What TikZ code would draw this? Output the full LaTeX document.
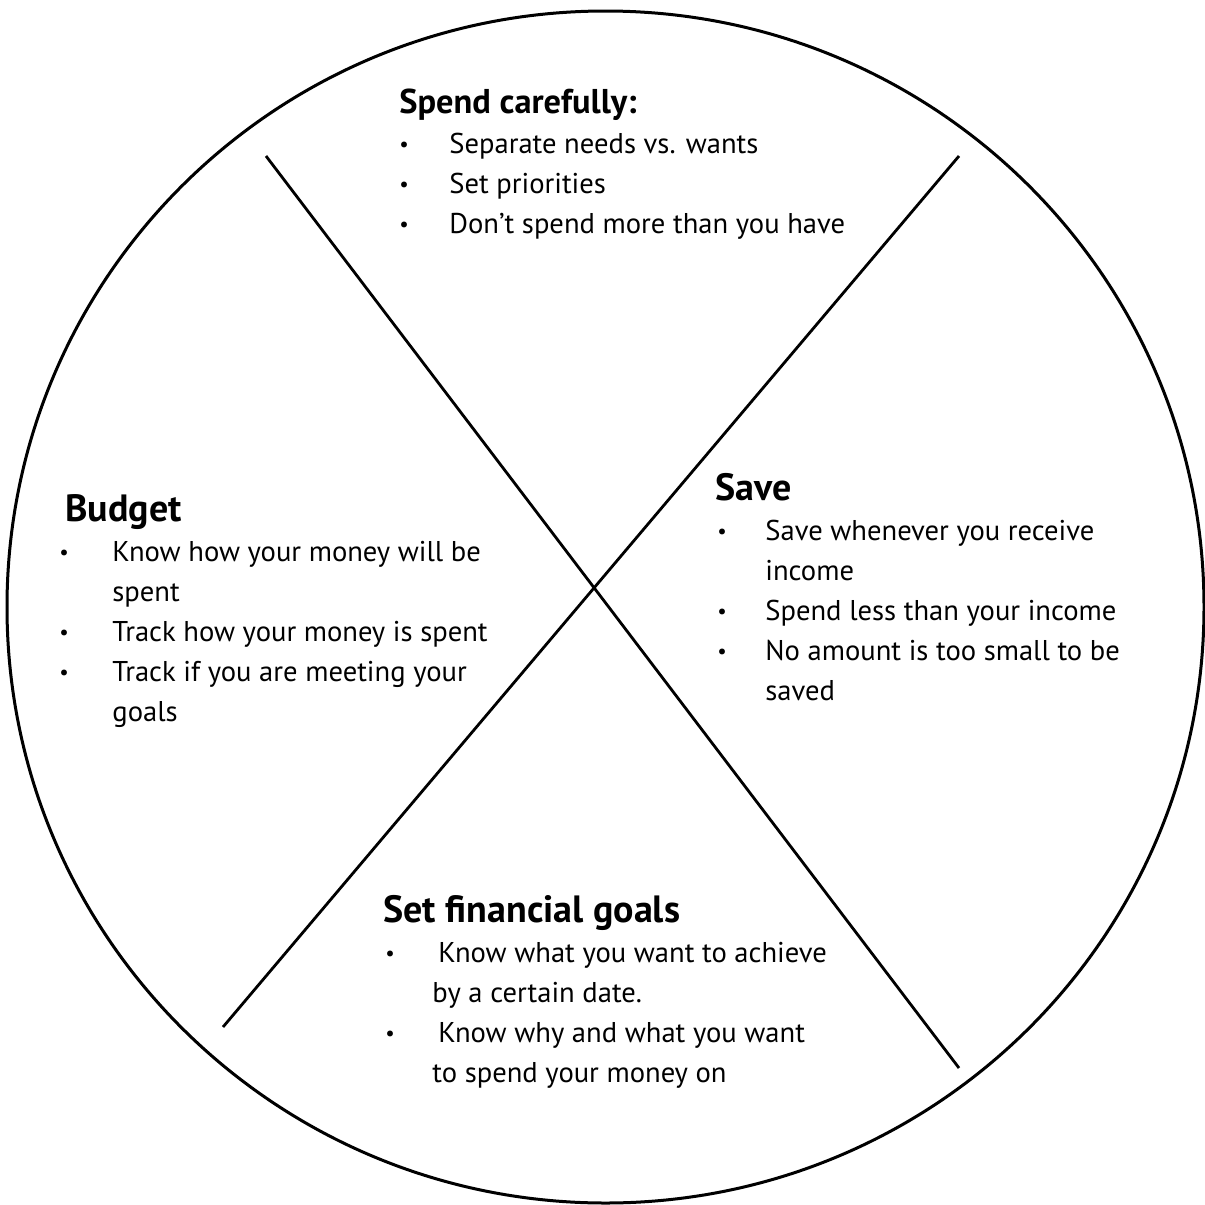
\documentclass[tikz,border=0pt]{standalone}
\usepackage{fontspec}
\setmainfont{PT Sans}
\tikzset{
  head/.style={anchor=base west, inner sep=0pt, font=\bfseries\fontsize{19}{23}\selectfont},
  body/.style={anchor=base west, inner sep=0pt, font=\fontsize{14.3}{17}\selectfont},
  dot/.style={anchor=base, inner sep=0pt, yshift=0.6pt, font=\fontsize{10.5}{12}\selectfont},
  rim/.style={line width=1.5pt},
  cut/.style={line width=1.4pt},
}
\begin{document}
\begin{tikzpicture}[x=0.5pt,y=-0.5pt]
\useasboundingbox (0,0) rectangle (1205,1205);
%Wheel
  \draw[rim] (605.5,607) ellipse [x radius=598.5, y radius=596];
  \coordinate (tl) at (266,156);
  \coordinate (br) at (959,1068);
  \coordinate (tr) at (959,156);
  \coordinate (bl) at (223,1027);
  \draw[cut] (tl) -- (br);
  \draw[cut] (tr) -- (bl);
%Spend carefully
  \node[head, font=\bfseries\fontsize{17.2}{21}\selectfont] (spend) at (399,113) {Spend carefully:};
  \foreach \txt [count=\i] in {Separate needs vs. wants, Set priorities, Don’t spend more than you have} {
        \node[dot] (spend-dot-\i) at (404,113+40*\i) {•};
        \node[body] (spend-\i) at (449,113+40*\i) {\txt};
    }
%Budget
  \node[head] (budget) at (65,521) {Budget};
  \foreach \b/\txt [count=\i] in {1/Know how your money will be, 0/spent, 1/Track how your money is spent, 1/Track if you are meeting your, 0/goals} {
        \ifnum\b=1 \node[dot] (budget-dot-\i) at (64,521+40*\i) {•}; \fi
        \node[body] (budget-\i) at (112,521+40*\i) {\txt};
    }
%Save
  \node[head] (save) at (715,500) {Save};
  \foreach \b/\txt [count=\i] in {1/Save whenever you receive, 0/income, 1/Spend less than your income, 1/No amount is too small to be, 0/saved} {
        \ifnum\b=1 \node[dot] (save-dot-\i) at (722,500+40*\i) {•}; \fi
        \node[body] (save-\i) at (765,500+40*\i) {\txt};
    }
%Set financial goals
  \node[head] (goals) at (383,922) {Set financial goals};
  \foreach \b/\x/\txt [count=\i] in {1/438/Know what you want to achieve, 0/432/by a certain date., 1/438/Know why and what you want, 0/432/to spend your money on} {
        \ifnum\b=1 \node[dot] (goals-dot-\i) at (390,922+40*\i) {•}; \fi
        \node[body] (goals-\i) at (\x,922+40*\i) {\txt};
    }
\end{tikzpicture}
\end{document}
